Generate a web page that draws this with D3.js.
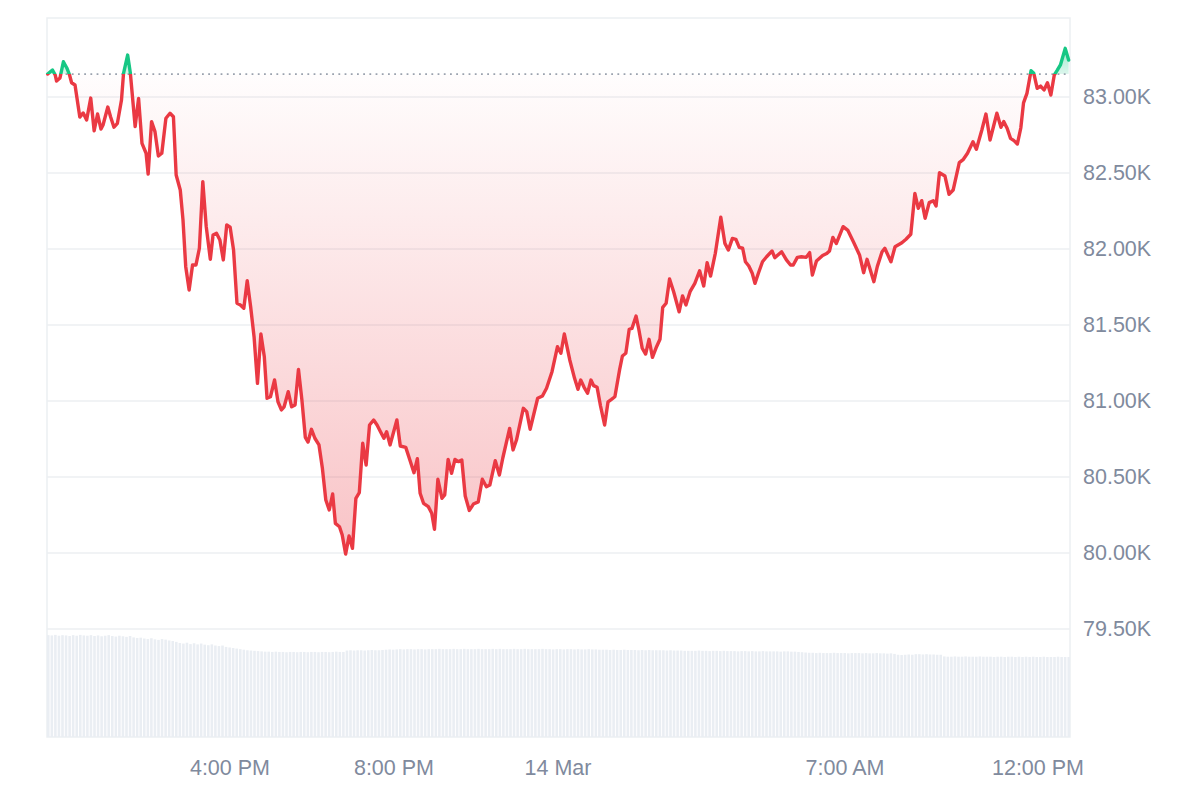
<!DOCTYPE html>
<html><head><meta charset="utf-8">
<script src="https://cdn.jsdelivr.net/npm/d3@7"></script>
<style>html,body{margin:0;padding:0;background:#fff;} svg{display:block;font-family:"Liberation Sans",Arial,sans-serif;}</style>
</head><body><svg id="chart" width="1200" height="800"></svg>
<script>
// ---------- DATA ----------
const startTime = "2025-03-13T11:33:00";
const endTime = "2025-03-14T12:30:00";
// minutes since startTime
const minutes = [1,8,12,14,19,24,29,33,36,41,48,53,58,64,69,74,79,82,89,93,98,103,109,112,118,122,129,134,139,145,148,153,158,163,168,174,180,185,189,195,199,203,208,213,218,223,228,233,239,243,248,253,258,263,268,273,278,283,288,293,298,303,308,313,318,322,327,333,338,343,347,353,358,363,368,373,378,382,387,392,398,403,408,413,418,422,428,432,437,442,447,452,457,462,467,472,478,483,488,493,497,502,512,517,525,531,537,542,546,551,558,563,567,572,578,582,587,592,597,602,607,612,618,624,631,637,643,648,656,662,667,677,682,687,697,702,707,718,725,731,739,747,752,757,765,772,777,781,786,791,796,800,805,810,816,821,826,831,838,842,847,852,856,862,866,871,876,881,886,892,897,901,906,911,917,925,930,935,941,948,955,961,966,971,978,986,992,997,1003,1008,1013,1018,1022,1027,1032,1036,1041,1047,1053,1061,1065,1075,1082,1088,1092,1098,1104,1111,1116,1120,1126,1135,1141,1145,1150,1155,1165,1172,1180,1189,1195,1200,1210,1215,1222,1226,1235,1241,1251,1257,1264,1270,1275,1280,1285,1291,1297,1301,1306,1314,1320,1326,1335,1341,1347,1355,1360,1368,1374,1380,1390,1396,1400,1405,1410,1415,1420,1425,1429,1434,1440,1444,1449,1454,1459,1464,1469,1474,1478,1483,1490,1495];
const prices = [83151,83178,83145,83105,83125,83232,83191,83145,83094,83079,82868,82895,82849,82993,82778,82888,82789,82816,82934,82870,82801,82827,82980,83156,83276,83156,82805,82991,82695,82630,82493,82838,82772,82612,82630,82860,82893,82870,82487,82388,82191,81884,81730,81895,81895,82005,82443,82147,81932,82092,82103,82059,81928,82158,82143,81993,81643,81632,81610,81791,81620,81423,81116,81441,81291,81018,81028,81138,80995,80941,80962,81061,80962,80974,81208,81007,80761,80730,80814,80755,80711,80557,80349,80283,80388,80195,80173,80118,79993,80112,80031,80360,80397,80722,80579,80842,80875,80842,80798,80755,80798,80711,80875,80704,80695,80612,80528,80620,80393,80327,80305,80261,80156,80485,80360,80382,80616,80524,80616,80601,80612,80375,80280,80322,80336,80485,80436,80447,80607,80513,80625,80820,80678,80743,80952,80930,80814,81018,81033,81084,81193,81357,81314,81441,81270,81149,81077,81138,81090,81051,81138,81101,81090,80967,80842,80995,81011,81028,81208,81296,81314,81472,81478,81559,81472,81347,81309,81406,81287,81357,81406,81616,81643,81803,81719,81587,81691,81632,81719,81774,81857,81757,81910,81822,81972,82209,82037,81993,82070,82064,82011,82005,81916,81888,81840,81774,81840,81916,81949,81987,81943,81982,81928,81895,81895,81945,81949,81945,81976,81829,81921,81957,81970,81987,82076,82036,82147,82122,82048,81961,81844,81932,81785,81884,81982,82005,81916,82015,82041,82064,82097,82366,82268,82318,82202,82305,82318,82283,82502,82480,82360,82388,82568,82590,82630,82706,82656,82783,82888,82717,82893,82801,82838,82794,82728,82713,82691,82796,82961,83024,83173,83156,83057,83072,83046,83094,83013,83145,83173,83211,83320,83243];
const baselinePrice = 83151;
// 24h volume, one bar per 5 minutes (billions USD)
const volumes = [
36.4,36.3,36.5,36.2,36.4,36.3,36.1,36.4,36.2,36.5,36.3,36.2,
36.4,36.1,36.3,36.0,36.2,36.4,36.1,35.9,36.2,36.0,35.8,36.1,
35.6,35.4,35.5,35.2,35.0,35.3,34.9,34.7,35.0,34.8,34.5,34.3,
34.0,33.6,33.4,33.7,33.2,33.5,33.1,33.4,33.0,32.8,33.1,32.7,
32.5,32.7,32.2,32.0,31.8,31.6,31.4,31.2,31.0,30.9,30.8,30.7,
30.6,30.5,30.5,30.4,30.5,30.4,30.4,30.3,30.4,30.4,30.3,30.4,
30.4,30.3,30.4,30.4,30.3,30.4,30.4,30.3,30.4,30.5,30.4,30.4,
30.9,31.0,30.9,31.0,31.0,30.9,31.0,31.1,31.0,31.0,31.1,31.2,
31.3,31.2,31.3,31.4,31.3,31.4,31.4,31.3,31.4,31.4,31.3,31.4,
31.4,31.4,31.5,31.4,31.4,31.4,31.5,31.4,31.4,31.5,31.4,31.4,
31.4,31.5,31.4,31.4,31.4,31.5,31.4,31.5,31.4,31.4,31.4,31.5,
31.4,31.4,31.5,31.4,31.4,31.4,31.4,31.5,31.4,31.4,31.3,31.4,
31.4,31.3,31.4,31.4,31.3,31.4,31.3,31.3,31.4,31.3,31.3,31.2,
31.2,31.2,31.1,31.2,31.1,31.1,31.2,31.1,31.1,31.1,31.0,31.1,
31.0,31.1,31.0,31.0,31.0,31.0,30.9,31.0,30.9,30.9,30.9,30.8,
30.8,30.8,30.8,30.9,30.8,30.8,30.7,30.8,30.8,30.7,30.8,30.7,
30.7,30.7,30.6,30.7,30.7,30.6,30.7,30.6,30.6,30.7,30.6,30.6,
30.6,30.6,30.5,30.6,30.6,30.5,30.5,30.4,30.3,30.2,30.1,30.1,
30.0,30.1,30.0,30.0,30.0,30.1,30.0,30.0,30.0,29.9,30.0,30.0,
30.0,29.9,30.0,29.9,29.9,30.0,29.9,29.9,29.8,29.9,29.7,29.4,
29.3,29.4,29.5,29.4,29.6,29.6,29.5,29.6,29.5,29.5,29.4,29.4,
28.8,28.7,28.7,28.8,28.7,28.7,28.8,28.7,28.7,28.7,28.8,28.7,
28.7,28.7,28.6,28.7,28.7,28.6,28.7,28.7,28.6,28.7,28.6,28.7,
28.6,28.7,28.6,28.6,28.7,28.6,28.6,28.6,28.7,28.6,28.6,28.6];
const yTickValues = [79500,80000,80500,81000,81500,82000,82500,83000];
const xTickTimes = ["2025-03-13T16:00:00","2025-03-13T20:00:00","2025-03-14T00:00:00","2025-03-14T07:00:00","2025-03-14T12:00:00"];
const xTickLabels = ["4:00 PM","8:00 PM","14 Mar","7:00 AM","12:00 PM"];

// ---------- LAYOUT ----------
const W = 1200, H = 800;
const M = {left: 47, right: 1070, top: 18, bottom: 737};
const RED = "#ea3943", GREEN = "#16c784";
const svg = d3.select("#chart");
const parse = d3.timeParse("%Y-%m-%dT%H:%M:%S");
const t0 = parse(startTime), t1 = parse(endTime);
const data = minutes.map((m,i)=>({t: d3.timeMinute.offset(t0, m), p: prices[i]}));

const x = d3.scaleTime().domain([t0, t1]).range([M.left, M.right]);
const y = d3.scaleLinear().domain([79500, 83000]).range([629, 97]);
const xb = d3.scaleBand().domain(d3.range(volumes.length)).range([M.left, M.right]).paddingInner(0.28);
const yv = d3.scaleLinear().domain([0, 38.6]).range([M.bottom, 629]);

const defs = svg.append("defs");
const by = y(baselinePrice);
defs.append("clipPath").attr("id","clipAbove").append("rect")
  .attr("x",M.left-5).attr("y",0).attr("width",M.right-M.left+10).attr("height",by);
defs.append("clipPath").attr("id","clipBelow").append("rect")
  .attr("x",M.left-5).attr("y",by).attr("width",M.right-M.left+10).attr("height",H-by);
const gRed = defs.append("linearGradient").attr("id","gRed").attr("gradientUnits","userSpaceOnUse")
  .attr("x1",0).attr("x2",0).attr("y1",by).attr("y2",y(79993));
gRed.append("stop").attr("offset",0).attr("stop-color",RED).attr("stop-opacity",0.01);
gRed.append("stop").attr("offset",1).attr("stop-color",RED).attr("stop-opacity",0.3);
const gGreen = defs.append("linearGradient").attr("id","gGreen").attr("gradientUnits","userSpaceOnUse")
  .attr("x1",0).attr("x2",0).attr("y1",y(83320)).attr("y2",by);
gGreen.append("stop").attr("offset",0).attr("stop-color",GREEN).attr("stop-opacity",0.4);
gGreen.append("stop").attr("offset",1).attr("stop-color",GREEN).attr("stop-opacity",0.15);

// frame
svg.append("rect").attr("x",M.left).attr("y",M.top).attr("width",M.right-M.left).attr("height",M.bottom-M.top)
  .attr("fill","none").attr("stroke","#eceff2").attr("stroke-width",1.5);

// gridlines
svg.append("g").selectAll("line").data(yTickValues).join("line")
  .attr("x1",M.left).attr("x2",M.right).attr("y1",d=>y(d)).attr("y2",d=>y(d))
  .attr("stroke","#eceff2").attr("stroke-width",1.5);

// volume bars
svg.append("g").selectAll("rect").data(volumes).join("rect")
  .attr("x",(d,i)=>xb(i)).attr("width",xb.bandwidth())
  .attr("y",d=>yv(d)).attr("height",d=>M.bottom-yv(d))
  .attr("fill","#eaeef3");

// areas
const area = d3.area().x(d=>x(d.t)).y0(by).y1(d=>y(d.p));
svg.append("path").datum(data).attr("d",area).attr("fill","url(#gRed)").attr("clip-path","url(#clipBelow)");
svg.append("path").datum(data).attr("d",area).attr("fill","url(#gGreen)").attr("clip-path","url(#clipAbove)");

// baseline
svg.append("line").attr("x1",M.left).attr("x2",M.right).attr("y1",by).attr("y2",by)
  .attr("stroke","#9aa2ae").attr("stroke-width",1.8).attr("stroke-dasharray","1.8 4.4");

// lines
const line = d3.line().x(d=>x(d.t)).y(d=>y(d.p));
svg.append("path").datum(data).attr("d",line).attr("fill","none").attr("stroke",RED).attr("stroke-width",3.4)
  .attr("stroke-linejoin","round").attr("stroke-linecap","round").attr("clip-path","url(#clipBelow)");
svg.append("path").datum(data).attr("d",line).attr("fill","none").attr("stroke",GREEN).attr("stroke-width",3.4)
  .attr("stroke-linejoin","round").attr("stroke-linecap","round").attr("clip-path","url(#clipAbove)");

// y axis labels
const yAxis = d3.axisRight(y).tickValues(yTickValues).tickSize(0).tickPadding(0)
  .tickFormat(d=>(d/1000).toFixed(2)+"K");
const gy = svg.append("g").attr("transform",`translate(1083,0)`).call(yAxis);
gy.select(".domain").remove();
gy.selectAll("text").attr("font-size",21.5).attr("fill","#808a9d").attr("font-family","'Liberation Sans',Arial,sans-serif");

// x axis labels
const xAxis = d3.axisBottom(x).tickValues(xTickTimes.map(parse)).tickSize(0).tickPadding(0)
  .tickFormat((d,i)=>xTickLabels[i]);
const gx = svg.append("g").attr("transform",`translate(0,760)`).call(xAxis);
gx.select(".domain").remove();
gx.selectAll("text").attr("font-size",21.5).attr("fill","#808a9d").attr("font-family","'Liberation Sans',Arial,sans-serif");
// keep last label inside the frame area
gx.selectAll(".tick").each(function(){
  const txt = d3.select(this).select("text").node();
  const w = txt.getComputedTextLength();
  const tr = d3.select(this).attr("transform");
  const tx = +tr.match(/translate\(([-\d.]+)/)[1];
  const limit = M.right + 14;
  if (tx + w/2 > limit) d3.select(this).attr("transform",`translate(${limit - w/2},0)`);
});
</script></body></html>
